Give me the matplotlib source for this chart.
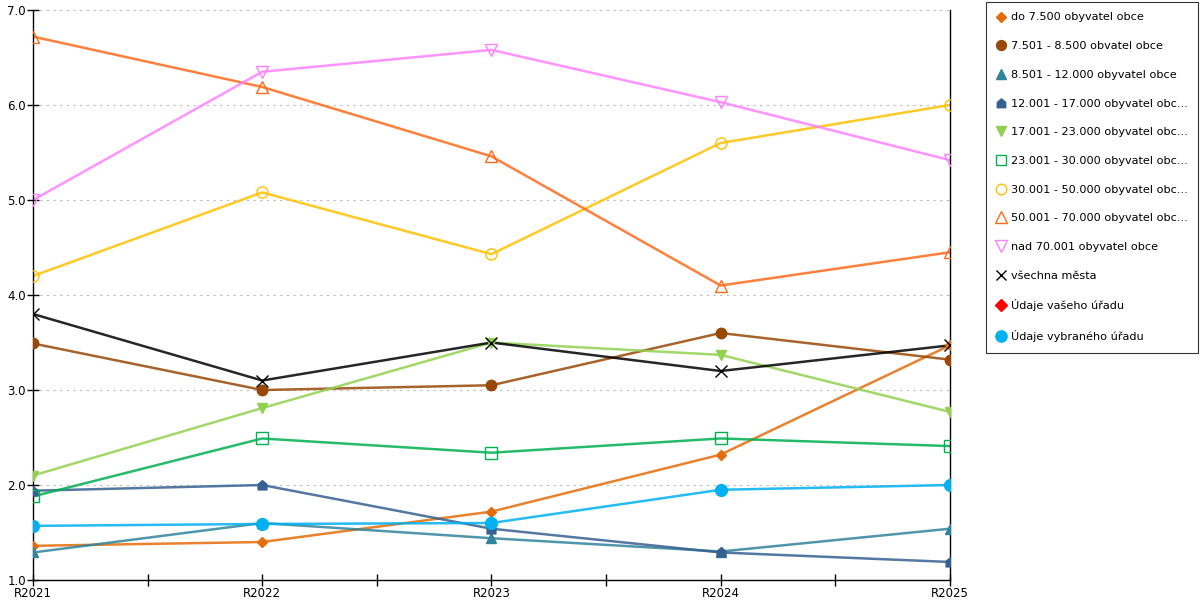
import matplotlib
matplotlib.use("Agg")
import matplotlib.pyplot as plt
from matplotlib.path import Path
from matplotlib.lines import Line2D
import numpy as np

years = ["R2021", "R2022", "R2023", "R2024", "R2025"]

do_7500 = [1.36, 1.40, 1.72, 2.32, 3.47]
od_7501 = [3.49, 3.00, 3.05, 3.60, 3.32]
od_8501 = [1.29, 1.60, 1.44, 1.30, 1.54]
od_12001 = [1.94, 2.00, 1.54, 1.29, 1.19]
od_17001 = [2.10, 2.81, 3.50, 3.37, 2.77]
od_23001 = [1.88, 2.49, 2.34, 2.49, 2.41]
od_30001 = [4.20, 5.08, 4.43, 5.60, 6.00]
od_50001 = [6.72, 6.19, 5.46, 4.10, 4.45]
nad_70001 = [5.00, 6.35, 6.58, 6.03, 5.42]
vsechna_mesta = [3.80, 3.10, 3.50, 3.20, 3.47]
vas_urad = [None, None, None, None, None]
vybrany_urad = [1.57, 1.59, 1.60, 1.95, 2.00]

labels = [
    "do 7.500 obyvatel obce",
    "7.501 - 8.500 obvatel obce",
    "8.501 - 12.000 obyvatel obce",
    "12.001 - 17.000 obyvatel obc...",
    "17.001 - 23.000 obyvatel obc...",
    "23.001 - 30.000 obyvatel obc...",
    "30.001 - 50.000 obyvatel obc...",
    "50.001 - 70.000 obyvatel obc...",
    "nad 70.001 obyvatel obce",
    "všechna města",
    "Údaje vašeho úřadu",
    "Údaje vybraného úřadu",
]

# house shaped marker (square with a roof)
house = Path([(-1, -1), (1, -1), (1, 0.25), (0, 1.1), (-1, 0.25), (-1, -1)],
             [Path.MOVETO, Path.LINETO, Path.LINETO, Path.LINETO, Path.LINETO, Path.CLOSEPOLY])

# (values, colour, marker, marker size, filled)
series = [
    (do_7500, "#E46C0A", "D", 5.5, True),
    (od_7501, "#984807", "o", 7.5, True),
    (od_8501, "#31849B", "^", 7.5, True),
    (od_12001, "#366092", house, 7, True),
    (od_17001, "#92D050", "v", 7.5, True),
    (od_23001, "#00B050", "s", 8, False),
    (od_30001, "#FFC000", "o", 8, False),
    (od_50001, "#FF6A1A", "^", 9, False),
    (nad_70001, "#FF80FF", "v", 9, False),
    (vsechna_mesta, "#000000", "x", 8, False),
    (vas_urad, "#FF0000", "D", 6, True),
    (vybrany_urad, "#00B0F0", "o", 8.5, True),
]

fig = plt.figure(figsize=(12, 6), dpi=100)
ax = fig.add_axes([0.0275, 0.0333, 0.764, 0.95])

x = np.arange(len(years))
handles = []
for (vals, col, mk, ms, filled), lab in zip(series, labels):
    y = np.array([np.nan if v is None else v for v in vals], dtype=float)
    ax.plot(x, y, color=col, lw=1.8, alpha=0.85, zorder=2)
    face = col if filled else "none"
    ax.plot(x, y, ls="none", marker=mk, ms=ms, markerfacecolor=face,
            markeredgecolor=col, markeredgewidth=1.0, zorder=3)
    handles.append(Line2D([], [], ls="none", marker=mk, ms=ms * 0.95,
                          markerfacecolor=face, markeredgecolor=col, markeredgewidth=1.0))

ax.set_xlim(0, 4)
ax.set_ylim(1.0, 7.0)
ax.set_xticks(x)
ax.set_xticklabels(years)
ax.set_xticks([0.5, 1.5, 2.5, 3.5], minor=True)
ax.set_yticks([1, 2, 3, 4, 5, 6, 7])
ax.set_yticklabels([f"{v:.1f}" for v in [1, 2, 3, 4, 5, 6, 7]])
ax.tick_params(axis="both", which="both", direction="inout", length=8, width=1,
               labelsize=8.5, colors="#000000")
ax.tick_params(axis="x", pad=1)
ax.tick_params(axis="y", pad=1)

ax.yaxis.grid(True, ls=(0, (2, 4)), color="#BBBBBB", lw=0.8)
ax.set_axisbelow(True)
ax.spines["top"].set_visible(False)
for s in ["left", "right", "bottom"]:
    ax.spines[s].set_color("black")
    ax.spines[s].set_linewidth(1.0)

leg = fig.legend(handles, labels, loc="upper left", bbox_to_anchor=(0.8215, 0.997),
                 fontsize=8.1, frameon=True, fancybox=False, edgecolor="black",
                 labelspacing=1.66, handlelength=0.8, handletextpad=0.45,
                 borderpad=0.95, borderaxespad=0)
leg.get_frame().set_linewidth(0.8)

fig.savefig("out.png", dpi=100)
